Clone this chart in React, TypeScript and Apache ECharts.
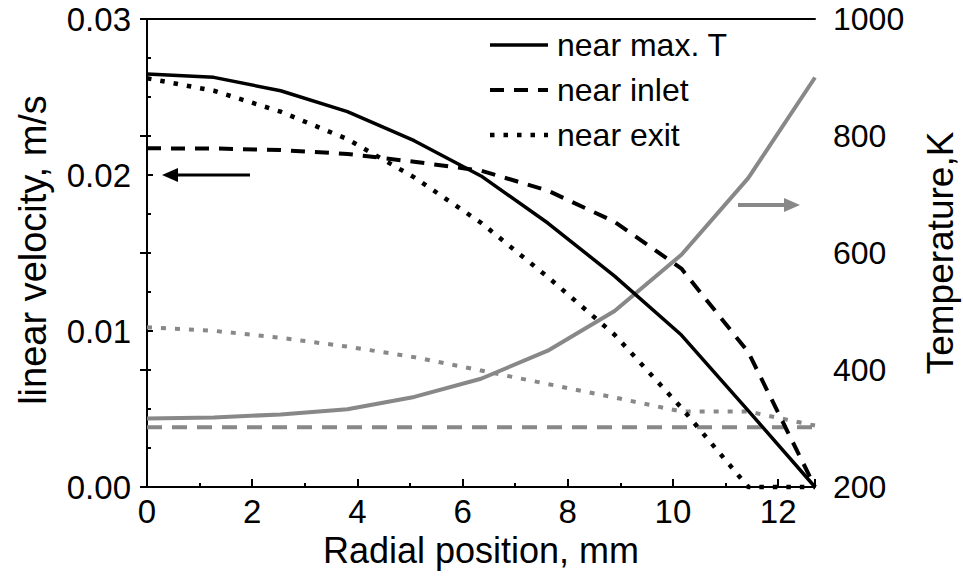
import React, { useEffect, useRef } from "react";
import * as echarts from "echarts";

const radial = [0, 1.27, 2.54, 3.81, 5.08, 6.35, 7.62, 8.89, 10.16, 11.43, 12.7];
const velMaxT = [0.02647, 0.02626, 0.0254, 0.02406, 0.0222, 0.01994, 0.01692, 0.01352, 0.00974, 0.0049, 0];
const velInlet = [0.02171, 0.0217, 0.0216, 0.02135, 0.02085, 0.02028, 0.019, 0.017, 0.014, 0.00865, 0];
const velExit = [0.0262, 0.0254, 0.02406, 0.0223, 0.01985, 0.01694, 0.01346, 0.00976, 0.00508, 0, 0];
const tempMaxT = [317, 319, 324, 333, 354, 385, 433, 501, 597, 728, 900];
const tempInlet = [302, 302, 302, 302, 302, 302, 302, 302, 302, 302, 302];
const tempExit = [473, 467, 455, 440, 422, 399, 376, 353, 329, 329, 305];

const xTicks = [0, 2, 4, 6, 8, 10, 12];
const legendNames = ["near max. T", "near inlet", "near exit"];
const FONT = "'Liberation Sans', Arial, sans-serif";
const GRAY = "#888888";

const DASH_SOLID: number[] | null = null;
const DASH_INLET = [14, 10];
const DASH_EXIT = [4.5, 9];
const legendDash = [DASH_SOLID, DASH_INLET, DASH_EXIT];
const legendWidth = [3.5, 4, 4.5];

const pairs = (ys: number[]) => radial.map((x, i) => [x, ys[i]]);

export default function App() {
  const ref = useRef<HTMLDivElement>(null);
  useEffect(() => {
    if (!ref.current) return;
    const chart = echarts.init(ref.current, undefined, { renderer: "svg" });
    const tickLabel = { fontFamily: FONT, fontSize: 33, color: "#000" };
    const line = (name: string, data: number[], yIdx: number, color: string, type: any, width: number, z: number) => ({
      name,
      type: "line",
      xAxisIndex: 0,
      yAxisIndex: yIdx,
      data: pairs(data),
      showSymbol: false,
      symbol: "none",
      clip: false,
      z,
      lineStyle: { color, type, width, cap: "butt" },
      itemStyle: { color },
    });
    const legendGraphics: any[] = [];
    legendNames.forEach((name, i) => {
      const y = 45 + i * 45;
      legendGraphics.push({
        type: "line",
        shape: { x1: 490, y1: y, x2: 548, y2: y },
        style: { stroke: "#000", lineWidth: legendWidth[i], lineDash: legendDash[i] || undefined },
      });
      legendGraphics.push({
        type: "text",
        x: 557,
        y,
        style: { text: name, fontFamily: FONT, fontSize: 32, fill: "#000", textAlign: "left", textVerticalAlign: "middle" },
      });
    });
    chart.setOption({
      animation: false,
      backgroundColor: "#fff",
      grid: { left: 147, right: 148, top: 19, bottom: 93, containLabel: false },
      xAxis: [
        {
          type: "value",
          min: 0,
          max: 12.7,
          interval: 2,
          axisLine: { lineStyle: { color: "#000", width: 2 } },
          axisTick: { inside: true, length: 8, lineStyle: { color: "#000", width: 2 } },
          minorTick: { show: true, splitNumber: 2, length: 4, lineStyle: { color: "#000", width: 2 } },
          splitLine: { show: false },
          axisLabel: {
            ...tickLabel,
            margin: 8,
            showMaxLabel: false,
            formatter: (v: number) => (xTicks.includes(v) ? String(v) : ""),
          },
        },
        {
          type: "value",
          position: "top",
          min: 0,
          max: 12.7,
          axisLine: { show: true, lineStyle: { color: "#000", width: 2 } },
          axisTick: { show: false },
          axisLabel: { show: false },
          splitLine: { show: false },
        },
      ],
      yAxis: [
        {
          type: "value",
          min: 0,
          max: 0.03,
          interval: 0.01,
          position: "left",
          axisLine: { show: true, lineStyle: { color: "#000", width: 2 } },
          axisTick: { inside: true, length: 6, lineStyle: { color: "#000", width: 2 } },
          minorTick: { show: true, splitNumber: 4, length: 4, lineStyle: { color: "#000", width: 2 } },
          splitLine: { show: false },
          axisLabel: { ...tickLabel, margin: 16, formatter: (v: number) => v.toFixed(2) },
        },
        {
          type: "value",
          min: 200,
          max: 1000,
          interval: 200,
          position: "right",
          axisLine: { show: true, lineStyle: { color: "#000", width: 2 } },
          axisTick: { inside: true, length: 7, lineStyle: { color: "#000", width: 2 } },
          splitLine: { show: false },
          axisLabel: { ...tickLabel, fontSize: 32, margin: 18, formatter: (v: number) => String(v) },
        },
      ],
      graphic: [
        {
          type: "text",
          x: 33,
          y: 250,
          rotation: Math.PI / 2,
          style: { text: "linear velocity, m/s", fontFamily: FONT, fontSize: 38, fill: "#000", textAlign: "center", textVerticalAlign: "middle" },
        },
        {
          type: "text",
          x: 940,
          y: 253,
          rotation: Math.PI / 2,
          style: { text: "Temperature,K", fontFamily: FONT, fontSize: 37, fill: "#000", textAlign: "center", textVerticalAlign: "middle" },
        },
        {
          type: "text",
          x: 481,
          y: 550,
          style: { text: "Radial position, mm", fontFamily: FONT, fontSize: 36, fill: "#000", textAlign: "center", textVerticalAlign: "middle" },
        },
        { type: "line", shape: { x1: 250, y1: 175, x2: 172, y2: 175 }, style: { stroke: "#000", lineWidth: 3 } },
        { type: "polygon", shape: { points: [[162, 175], [178, 168], [178, 182]] }, style: { fill: "#000" } },
        { type: "line", shape: { x1: 738, y1: 205, x2: 788, y2: 205 }, style: { stroke: GRAY, lineWidth: 4 } },
        { type: "polygon", shape: { points: [[800, 205], [784, 198], [784, 212]] }, style: { fill: GRAY } },
        ...legendGraphics,
      ],
      series: [
        line("T inlet", tempInlet, 1, GRAY, [15, 10], 4, 2),
        line("T exit", tempExit, 1, GRAY, [5, 9], 4, 2),
        line("T max", tempMaxT, 1, GRAY, "solid", 4, 2),
        line(legendNames[0], velMaxT, 0, "#000", "solid", 3.5, 3),
        line(legendNames[1], velInlet, 0, "#000", DASH_INLET, 4, 3),
        line(legendNames[2], velExit, 0, "#000", DASH_EXIT, 4.5, 3),
      ],
    });
    return () => chart.dispose();
  }, []);
  return <div ref={ref} style={{ position: "fixed", left: 0, top: 0, width: 963, height: 580 }} />;
}
